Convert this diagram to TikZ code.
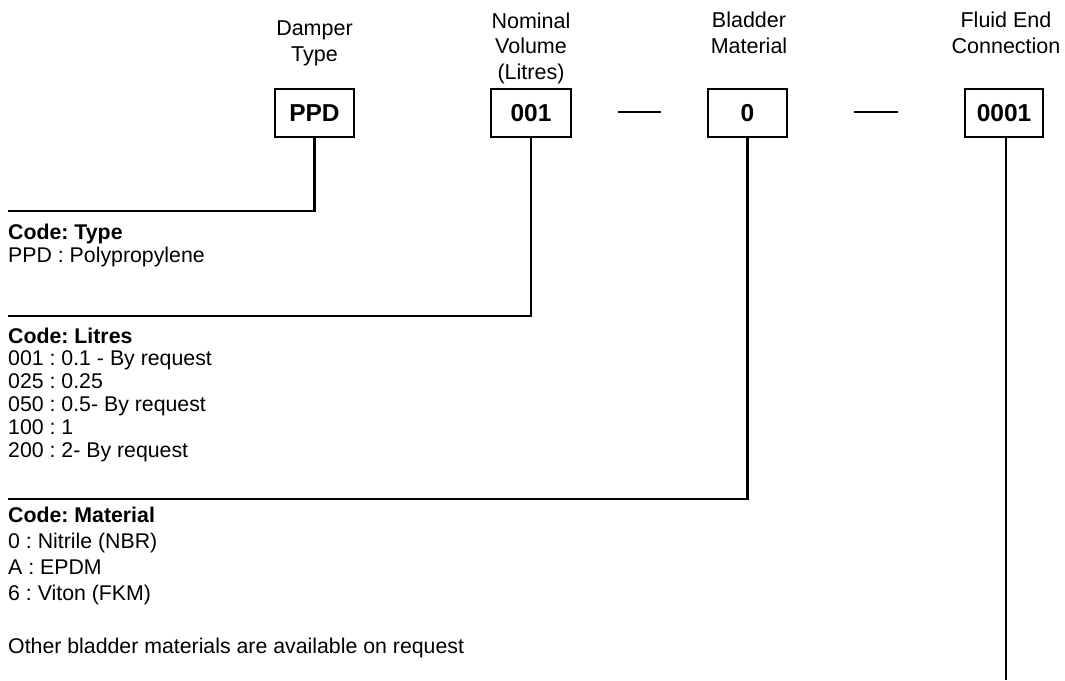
\documentclass[tikz,border=0pt]{standalone}
\usepackage{fontspec}
\setmainfont{Liberation Sans}
\frenchspacing
\usetikzlibrary{positioning}
\tikzset{
  codebox/.style={rectangle, draw=black, line width=1.3pt, minimum width=79pt, minimum height=48pt, inner sep=0pt, font=\fontsize{24.5}{28}\selectfont\bfseries},
  heading/.style={align=center, inner sep=0pt, anchor=base, font=\fontsize{21.5}{25.5}\selectfont},
  keytext/.style={align=left, inner sep=0pt, anchor=base west, font=\fontsize{21.3}{22.8}\selectfont},
  leader/.style={line width=2.4pt},
  dashline/.style={line width=1.6pt}
}

\begin{document}
\begin{tikzpicture}[x=1pt, y=-1pt]
  \useasboundingbox (0,0) rectangle (1065,680);

  % headings (anchored at the baseline of their last line)
  \node (typehead) [heading] at (314.5,61) {Damper\\Type};
  \node (volhead) [heading] at (531,79) {Nominal\\Volume\\(Litres)};
  \node (mathead) [heading] at (749,53) {Bladder\\Material};
  \node (connhead) [heading] at (1006,53) {Fluid End\\Connection};

  % code boxes
  \node (type) [codebox] at (314.5,113) {PPD};
  \node (vol) [codebox, minimum width=80pt] at (531,113) {001};
  \node (mat) [codebox] at (747.5,113) {0};
  \node (conn) [codebox, minimum width=78pt] at (1004,113) {0001};

  % separators
  \coordinate (dashA) at (618,112);
  \coordinate (dashB) at (854,112);
  \draw [dashline] (dashA) -- ++(43,0);
  \draw [dashline] (dashB) -- ++(44,0);

  % key texts
  \node (typekey) [keytext] at (8,262) {\textbf{Code: Type}\\PPD : Polypropylene};
  \node (volkey) [keytext] at (8,457) {\textbf{Code: Litres}\\001 : 0.1 - By request\\025 : 0.25\\050 : 0.5- By request\\100 : 1\\200 : 2- By request};
  \node (matkey) [keytext, font=\fontsize{21.3}{25.7}\selectfont] at (8,600) {\textbf{Code: Material}\\0 : Nitrile (NBR)\\A : EPDM\\6 : Viton (FKM)};
  \node (matnote) [keytext] at (8,653) {Other bladder materials are available on request};

  % leader lines
  \coordinate (typeend) at (8,211);
  \coordinate (volend) at (8,316);
  \coordinate (matend) at (8,499);
  \coordinate (connend) at (1006,680);
  \draw [leader] (type.south) |- (typeend);
  \draw [leader] (vol.south) |- (volend);
  \draw [leader] (mat.south) |- (matend);
  \draw [leader] (conn.south -| connend) -- (connend);
\end{tikzpicture}
\end{document}
